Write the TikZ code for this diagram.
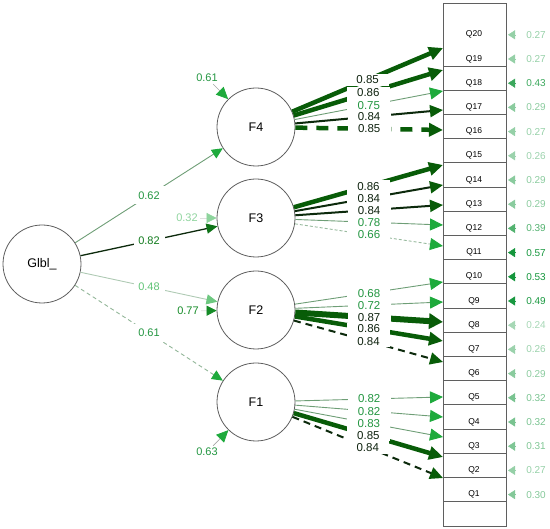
\documentclass[tikz,border=0pt]{standalone}
\usepackage{fontspec}
\setmainfont{Liberation Sans}
\usetikzlibrary{arrows.meta}

\definecolor{dkgrn}{RGB}{8,92,8}
\definecolor{blkgrn}{RGB}{12,42,12}
\definecolor{thngrn}{RGB}{110,158,118}
\definecolor{brgrn}{RGB}{30,170,60}
\definecolor{lbdk}{RGB}{15,35,15}
\definecolor{lbgr}{RGB}{35,150,65}
\definecolor{resgrn}{RGB}{20,150,60}
\definecolor{rimgray}{RGB}{95,95,95}

\def\RowTop{66}
\def\RowGap{24.2}
% factor / item / value / style / label colour
\def\Loadings{f4/t20/ldthk/0.85/lbdk, f4/t19/ldthk/0.86/lbdk, f4/t18/ldthn/0.75/lbgr,
  f4/t17/ldblk/0.84/lbdk, f4/t16/ldthkd/0.85/lbdk,
  f3/t15/ldthk/0.86/lbdk, f3/t14/ldblk/0.84/lbdk, f3/t13/ldblk/0.84/lbdk,
  f3/t12/ldthn/0.78/lbgr, f3/t11/ldthnd/0.66/lbgr,
  f2/t10/ldthn/0.68/lbgr, f2/t9/ldthn/0.72/lbgr, f2/t8/ldxthk/0.87/lbdk,
  f2/t7/ldthk/0.86/lbdk, f2/t6/ldblkd/0.84/lbdk,
  f1/t5/ldthn/0.82/lbgr, f1/t4/ldthn/0.82/lbgr, f1/t3/ldthn/0.83/lbgr,
  f1/t2/ldthk/0.85/lbdk, f1/t1/ldblkd/0.84/lbdk}

\begin{document}
\begin{tikzpicture}[x=1pt, y=-1pt,
    lat/.style={circle, draw=rimgray, line width=0.8pt, fill=white, minimum size=78pt,
      inner sep=0pt, font=\fontsize{12.5}{14}\selectfont},
    item/.style={inner sep=0pt, font=\fontsize{8.5}{10}\selectfont},
    rim/.style={draw=rimgray, line width=0.8pt},
    lbl/.style={fill=white, inner sep=0pt, minimum width=43pt, minimum height=12.4pt,
      font=\fontsize{11.5}{12}\selectfont},
    ldthk/.style={draw=dkgrn, line width=4.5pt, -{Triangle[length=14pt,width=13pt]}},
    ldxthk/.style={draw=dkgrn, line width=6pt, -{Triangle[length=14pt,width=15pt]}},
    ldthkd/.style={ldthk, dash pattern=on 12pt off 9pt},
    ldblk/.style={draw=blkgrn, line width=2pt, -{Triangle[length=13pt,width=12pt,color=dkgrn]}},
    ldblkd/.style={ldblk, dash pattern=on 7pt off 5pt},
    ldthn/.style={draw=thngrn, line width=0.9pt, -{Triangle[length=13pt,width=12pt,color=brgrn]}},
    ldthnd/.style={draw=thngrn!70!white, line width=0.9pt, dash pattern=on 3pt off 2pt,
      -{Triangle[length=13pt,width=12pt,color=brgrn]}},
    flbl/.style={fill=white, inner sep=0pt, minimum width=31pt, minimum height=18pt,
      font=\fontsize{11}{12}\selectfont},
    fres/.style={draw=gray!70, line width=0.7pt, inner sep=2pt, font=\fontsize{11}{12}\selectfont},
    resv/.style={inner xsep=10pt, inner ysep=0pt, font=\fontsize{10}{11}\selectfont},
  ]
  \useasboundingbox (0,0) rectangle (550,529);

  % latent variables
  \node[lat] (glbl) at (42,264) {Glbl\_};
  \node[lat] (f4) at (256,127) {F4};
  \node[lat] (f3) at (256,218) {F3};
  \node[lat] (f2) at (256,310) {F2};
  \node[lat] (f1) at (256,402) {F1};

  % item block
  \draw[rim] (443,3) rectangle (506,526);
  \foreach \k in {0,...,18}
    \draw[rim] (443,{\RowTop+\RowGap*\k}) -- (506,{\RowTop+\RowGap*\k});
  \foreach \i in {1,...,20}
    \node[item] (q\i) at (474,{\RowTop-7+\RowGap*(19-\i)}) {Q\i};

  % arrow ends on the block
  \foreach \i/\y in {20/48, 19/70, 18/91, 17/110, 16/130, 15/165, 14/185, 13/205, 12/225, 11/246,
      10/282, 9/302, 8/322, 7/341, 6/362, 5/397, 4/417, 3/437, 2/457, 1/478}
    \coordinate (t\i) at (443,\y);

  % second order paths
  \draw[draw=thngrn, line width=0.9pt, -{Triangle[length=11pt,width=10pt,color=brgrn]}]
    (glbl) -- (f4) node[midway, flbl, text=lbgr] {0.62};
  \draw[draw=blkgrn, line width=1.3pt, -{Triangle[length=11pt,width=10pt,color=dkgrn!70!brgrn]}]
    (glbl) -- (f3) node[midway, flbl, text=dkgrn!60!brgrn] {0.82};
  \draw[draw=thngrn!55!white, line width=0.9pt, -{Triangle[length=11pt,width=10pt,color=brgrn!65!white]}]
    (glbl) -- (f2) node[midway, flbl, text=brgrn!70!white] {0.48};
  \draw[draw=thngrn!75!white, line width=0.9pt, dash pattern=on 4pt off 3pt,
      -{Triangle[length=11pt,width=10pt,color=brgrn]}]
    (glbl) -- (f1) node[midway, flbl, text=lbgr] {0.61};

  % factor residuals
  \node[fres, draw=none, text=lbgr] (rf4) at (207,78) {0.61};
  \node[fres, draw=none, text=brgrn!50!white] (rf3) at (187,218) {0.32};
  \node[fres, draw=none, text=dkgrn!40!brgrn] (rf2) at (188,311) {0.77};
  \node[fres, draw=none, text=lbgr] (rf1) at (207,452) {0.63};
  \draw[fres, -{Triangle[length=12pt,width=11pt,color=brgrn]}] (rf4) -- (f4);
  \draw[fres, draw=gray!25, -{Triangle[length=10pt,width=10pt,color=brgrn!50!white]}] (rf3) -- (f3);
  \draw[fres, draw=gray!25, -{Triangle[length=10pt,width=10pt,color=dkgrn!40!brgrn]}] (rf2) -- (f2);
  \draw[fres, -{Triangle[length=12pt,width=11pt,color=brgrn]}] (rf1) -- (f1);

  % loadings
  \foreach \f/\t/\s/\v/\c in \Loadings
    \draw[\s] (\f) -- (\t);
  \foreach \f/\t/\s/\v/\c in \Loadings
    \path (\f) -- (\t) node[midway, lbl, text=\c] {\v};

  % item residuals
  \foreach \i/\v in {20/0.27, 19/0.27, 18/0.43, 17/0.29, 16/0.27, 15/0.26, 14/0.29, 13/0.29,
      12/0.39, 11/0.57, 10/0.53, 9/0.49, 8/0.24, 7/0.26, 6/0.29, 5/0.32, 4/0.32, 3/0.31,
      2/0.27, 1/0.30} {
    \pgfmathsetmacro\p{min(100,45+240*(\v-0.27))}
    \coordinate (e\i) at (508,{\RowTop-7+\RowGap*(19-\i)});
    \node[resv, text=resgrn!\p!white] (r\i) at (536,{\RowTop-7+\RowGap*(19-\i)}) {\v};
    \draw[draw=resgrn!\p!white, line width=0.5pt,
      -{Triangle[length=7pt,width=9pt]}] (r\i) -- (e\i);
  }
\end{tikzpicture}
\end{document}
